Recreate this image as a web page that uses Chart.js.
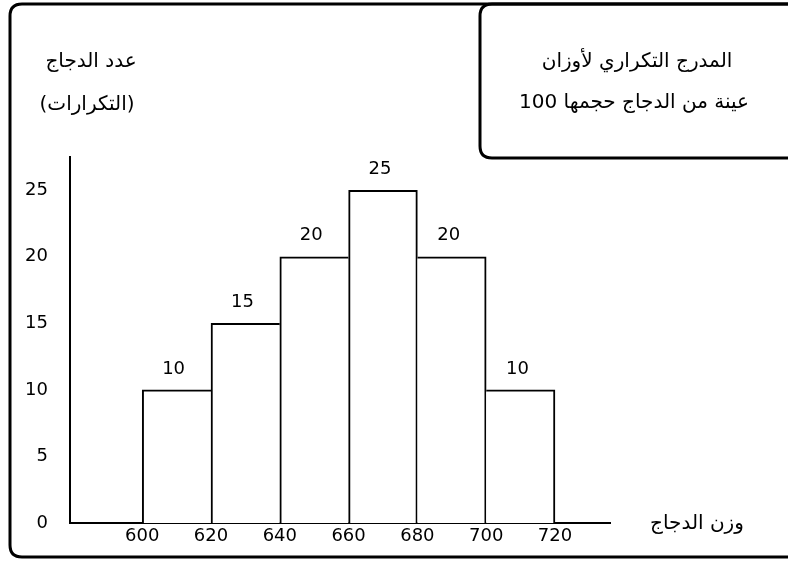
<!DOCTYPE html>
<html>
<head>
<meta charset="utf-8">
<script src="https://cdn.jsdelivr.net/npm/chart.js@4"></script>
<style>
  html, body { margin: 0; padding: 0; background: #fff; }
  #wrap { width: 788px; height: 562px; position: relative; }
</style>
</head>
<body>
<div id="wrap"><canvas id="c" width="788" height="562"></canvas></div>
<script>
// ---- data ----
const binStarts = [600, 620, 640, 660, 680, 700];
const frequencies = [10, 15, 20, 25, 20, 10];
const xTickLabels = [600, 620, 640, 660, 680, 700, 720];
const yTickLabels = [0, 5, 10, 15, 20, 25];
const titleLines = ['المدرج التكراري لأوزان', 'عينة من الدجاج حجمها 100'];
const yTitleLines = ['عدد الدجاج', '(التكرارات)'];
const xTitle = 'وزن الدجاج';

const binWidth = binStarts[1] - binStarts[0];
const points = binStarts.map((s, i) => ({ x: s + binWidth / 2, y: frequencies[i] }));

const numFont = '18px "DejaVu Sans"';
const arFont = '20px "DejaVu Sans"';

function roundRect(ctx, x, y, w, h, r) {
  ctx.beginPath();
  ctx.moveTo(x + r, y);
  ctx.lineTo(x + w - r, y);
  ctx.quadraticCurveTo(x + w, y, x + w, y + r);
  ctx.lineTo(x + w, y + h - r);
  ctx.quadraticCurveTo(x + w, y + h, x + w - r, y + h);
  ctx.lineTo(x + r, y + h);
  ctx.quadraticCurveTo(x, y + h, x, y + h - r);
  ctx.lineTo(x, y + r);
  ctx.quadraticCurveTo(x, y, x + r, y);
  ctx.closePath();
}

const decor = {
  id: 'decor',
  beforeDraw(chart) {
    const ctx = chart.ctx;
    ctx.save();
    ctx.fillStyle = '#fff';
    ctx.fillRect(0, 0, chart.width, chart.height);
    ctx.strokeStyle = '#000';
    ctx.lineWidth = 3;
    roundRect(ctx, 10, 4, 800, 553, 12);
    ctx.stroke();
    roundRect(ctx, 480, 4, 330, 154, 12);
    ctx.stroke();

    ctx.fillStyle = '#000';
    ctx.font = arFont;
    ctx.direction = 'rtl';
    ctx.textAlign = 'center';
    ctx.textBaseline = 'middle';
    ctx.fillText(titleLines[0], 637, 62);
    ctx.fillText(titleLines[1], 634, 103);
    ctx.fillText(yTitleLines[0], 91, 62);
    ctx.fillText(yTitleLines[1], 87, 105);
    ctx.fillText(xTitle, 697, 524);
    ctx.restore();
  },
  afterDatasetsDraw(chart) {
    const ctx = chart.ctx;
    const meta = chart.getDatasetMeta(0);
    ctx.save();
    ctx.fillStyle = '#000';
    ctx.font = numFont;
    ctx.textAlign = 'center';
    ctx.textBaseline = 'bottom';
    meta.data.forEach((bar, i) => {
      ctx.fillText(String(frequencies[i]), bar.x - 3, bar.y - 12);
    });
    ctx.restore();
  }
};

const n = frequencies.length;
new Chart(document.getElementById('c'), {
  type: 'bar',
  data: {
    datasets: [{
      data: points,
      backgroundColor: '#fff',
      borderColor: '#000',
      borderWidth: (c) => {
        const i = c.dataIndex;
        return {
          top: 2,
          bottom: 0,
          left: (i === 0 || frequencies[i] >= frequencies[i - 1]) ? 2 : 0,
          right: (i === n - 1 || frequencies[i] > frequencies[i + 1]) ? 2 : 0
        };
      },
      borderSkipped: false,
      barPercentage: 1,
      categoryPercentage: 1
    }]
  },
  options: {
    responsive: false,
    animation: false,
    devicePixelRatio: 1,
    layout: { padding: { left: 0, top: 157, right: 178, bottom: 0 } },
    plugins: { legend: { display: false }, tooltip: { enabled: false } },
    scales: {
      x: {
        type: 'linear',
        min: 579,
        max: 736,
        offset: false,
        z: 1,
        grid: { display: false, offset: false, drawTicks: false },
        border: { display: true, color: '#000', width: 2 },
        afterBuildTicks(scale) { scale.ticks = xTickLabels.map(v => ({ value: v })); },
        afterFit(scale) { scale.height = 39; },
        ticks: {
          color: '#000',
          font: { family: 'DejaVu Sans', size: 18 },
          padding: 3,
          maxRotation: 0,
          autoSkip: false,
          callback: v => String(v)
        }
      },
      y: {
        type: 'linear',
        min: 0,
        max: 27.5,
        z: 1,
        grid: { display: false, drawTicks: false },
        border: { display: true, color: '#000', width: 2 },
        afterBuildTicks(scale) { scale.ticks = yTickLabels.map(v => ({ value: v })); },
        afterFit(scale) { scale.width = 70; },
        ticks: {
          color: '#000',
          font: { family: 'DejaVu Sans', size: 18 },
          padding: 22,
          callback: v => String(v)
        }
      }
    }
  },
  plugins: [decor]
});
</script>
</body>
</html>
